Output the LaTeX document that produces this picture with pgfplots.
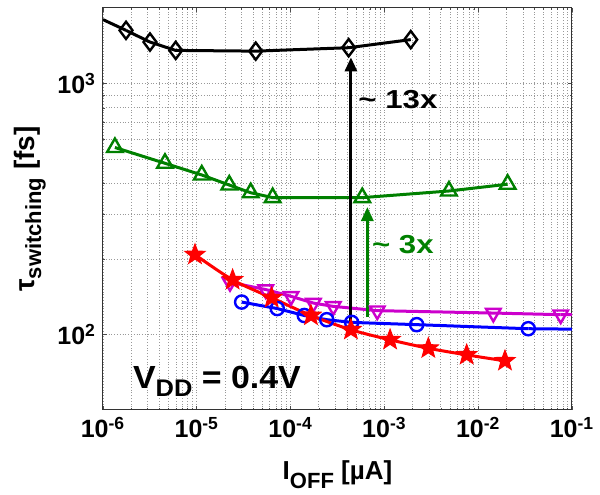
\documentclass[border=0pt]{standalone}
\usepackage{fontspec}
\setmainfont{Liberation Sans}
\usepackage{graphicx}
\usepackage{pgfplots}
\pgfplotsset{compat=1.18}
\usetikzlibrary{arrows.meta,calc}

\definecolor{mgreen}{RGB}{0,128,0}
\definecolor{mmag}{RGB}{204,0,204}
\definecolor{mblue}{RGB}{0,0,255}
\definecolor{mred}{RGB}{255,0,0}

% filled five-point star
\pgfdeclareplotmark{fstar}{%
  \pgfpathmoveto{\pgfpointpolar{90}{\pgfplotmarksize}}%
  \pgfpathlineto{\pgfpointpolar{126}{0.42\pgfplotmarksize}}%
  \pgfpathlineto{\pgfpointpolar{162}{\pgfplotmarksize}}%
  \pgfpathlineto{\pgfpointpolar{198}{0.42\pgfplotmarksize}}%
  \pgfpathlineto{\pgfpointpolar{234}{\pgfplotmarksize}}%
  \pgfpathlineto{\pgfpointpolar{270}{0.42\pgfplotmarksize}}%
  \pgfpathlineto{\pgfpointpolar{306}{\pgfplotmarksize}}%
  \pgfpathlineto{\pgfpointpolar{342}{0.42\pgfplotmarksize}}%
  \pgfpathlineto{\pgfpointpolar{18}{\pgfplotmarksize}}%
  \pgfpathlineto{\pgfpointpolar{54}{0.42\pgfplotmarksize}}%
  \pgfpathclose
  \pgfusepathqfillstroke
}

\begin{document}
\begin{tikzpicture}
\begin{axis}[
    name=ax,
    scale only axis, width=234.5pt, height=201pt,
    xmode=log, ymode=log,
    xmin=1e-6, xmax=1e-1, ymin=50, ymax=2000,
    xtick={1e-6,1e-5,1e-4,1e-3,1e-2,1e-1},
    xticklabels={10\textsuperscript{-6},10\textsuperscript{-5},10\textsuperscript{-4},10\textsuperscript{-3},10\textsuperscript{-2},10\textsuperscript{-1}},
    ytick={100,1000},
    yticklabels={10\textsuperscript{2},10\textsuperscript{3}},
    every tick label/.append style={font=\bfseries\fontsize{12.5}{13}\selectfont},
    grid=both,
    grid style={densely dotted, black!40, line width=0.4pt},
    major grid style={densely dotted, black!40, line width=0.4pt},
    axis line style={black!80, line width=0.5pt},
    major tick length=2pt, minor tick length=1pt,
    tick style={black!70, line width=0.3pt},
    xlabel={I\raisebox{-4.5pt}{\fontsize{11}{11}\selectfont OFF} [µA]},
    xlabel style={font=\bfseries\fontsize{13}{13}\selectfont, at={(axis description cs:0.5,0)}, anchor=north, yshift=-22pt},
    ylabel={\fontsize{14}{14}\selectfont τ\raisebox{-3.5pt}{\fontsize{11}{11}\selectfont switching} [fs]},
    ylabel style={font=\bfseries\fontsize{13}{13}\selectfont, at={(axis description cs:-0.156,0.5)}, rotate=0, anchor=center},
  ]
  % black, diamonds
  \addplot[black, line width=1.5pt, forget plot] coordinates {(1e-6,1798) (1.76e-6,1629)};
  \addplot[black, line width=1.5pt, mark=diamond, mark size=4.3pt, mark options={solid, line width=1.2pt}]
    coordinates {(1.76e-6,1629) (3.17e-6,1463) (5.96e-6,1355) (4.25e-5,1346) (4.16e-4,1389) (1.91e-3,1496)};
  % green, triangles
  \addplot[mgreen, line width=1.5pt, mark=triangle, mark size=4.5pt, mark options={solid, line width=1.2pt}]
    coordinates {(1.34e-6,556) (4.58e-6,481) (1.13e-5,432) (2.22e-5,394) (3.76e-5,367) (6.44e-5,351) (5.81e-4,351) (4.88e-3,373) (2.06e-2,397)};
  % magenta, down triangles
  \addplot[mmag, line width=1.5pt, forget plot] coordinates {(7.58e-2,119.9) (1e-1,120)};
  \addplot[mmag, line width=1.5pt, mark=triangle, mark size=4.2pt, mark options={solid, rotate=180, line width=1.2pt}]
    coordinates {(2.26e-5,161.4) (5.43e-5,151) (1.01e-4,141.9) (1.75e-4,133.4) (2.85e-4,129.4) (8.40e-4,124.4) (1.45e-2,121.7) (7.58e-2,119.9)};
  % blue, circles
  \addplot[mblue, line width=1.5pt, forget plot] coordinates {(3.42e-2,105.4) (1e-1,105)};
  \addplot[mblue, line width=1.5pt, mark=o, mark size=3.3pt, mark options={solid, line width=1.2pt}]
    coordinates {(3.01e-5,134.6) (7.21e-5,126.8) (1.40e-4,119) (2.43e-4,114.5) (4.48e-4,111.7) (2.21e-3,109.4) (3.42e-2,105.4)};
  % red, stars
  \addplot[mred, line width=1.5pt, smooth, mark=fstar, mark size=5.3pt, mark options={solid, fill=mred, line width=0.5pt}]
    coordinates {(9.57e-6,208) (2.41e-5,165) (6.29e-5,140) (1.65e-4,119) (4.40e-4,104.4) (1.15e-3,95.2) (2.94e-3,88.1) (7.54e-3,82.9) (1.93e-2,78.5)};

  % arrows and notes
  \draw[black, line width=1.5pt, -{Triangle[length=7pt,width=6pt]}] (axis cs:4.4e-4,112.7) -- (axis cs:4.4e-4,1271);
  \draw[mgreen, line width=1.5pt, -{Triangle[length=7pt,width=6pt]}] (axis cs:6.58e-4,117) -- (axis cs:6.58e-4,322);
  \node[anchor=base west, inner sep=0pt, font=\bfseries\fontsize{13}{13}\selectfont]
    at (axis cs:5.24e-4,792) {\scalebox{1.2}[1]{\textasciitilde{} 13x}};
  \node[anchor=base west, inner sep=0pt, text=mgreen, font=\bfseries\fontsize{13}{13}\selectfont]
    at (axis cs:7.33e-4,211) {\scalebox{1.2}[1]{\textasciitilde{} 3x}};
  \node[anchor=base west, inner sep=0pt, font=\bfseries\fontsize{16}{16}\selectfont]
    at (axis cs:2.07e-6,60.9) {\scalebox{1.06}[1]{V\raisebox{-4pt}{\fontsize{12}{12}\selectfont DD} = 0.4V}};
\end{axis}
\pgfresetboundingbox
\path[use as bounding box] ($(ax.south west)+(-51.5pt,-42.5pt)$) rectangle ($(ax.north east)+(14pt,4pt)$);
\end{tikzpicture}
\end{document}
